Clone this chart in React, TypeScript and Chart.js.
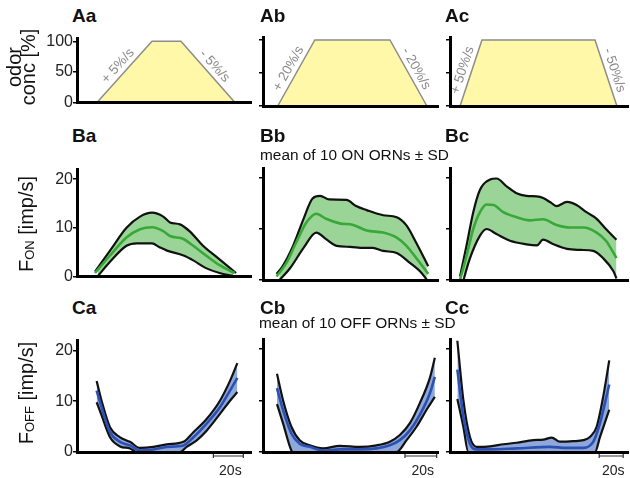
import React, { useEffect, useRef } from 'react';
import { Chart, registerables } from 'chart.js';
Chart.register(...registerables);

const FONT = '"Liberation Sans", Arial, Helvetica, sans-serif';

// ---------- data ----------
const odorLevels = [0, 100, 100, 0];
const rampA = [13.3, 50, 69.3, 105.3];
const rampB = [9.8, 34.5, 84.5, 109.1];
const rampC = [6.7, 21.3, 96.7, 111.3];
const rateUpLabels = ['+ 5%/s', '+ 20%/s', '+ 50%/s'];
const rateDownLabels = ['- 5%/s', '- 20%/s', '- 50%/s'];
const odorTicks = [0, 50, 100];
const rateTicks = [0, 10, 20];
const colTimeMax = [116, 116.5, 118.7];
const rowMax = [104.5, 21.96, 21.94];

type P = [number, number][];
const baUpper: P = [[12,1],[22,5.3],[33,10],[42,12.3],[50,13.1],[57.5,12.3],[62,11.1],[68.7,10.7],[75,9.3],[84,6.3],[93,4],[106,0.7]];
const baMean: P = [[12,0.7],[22,4.3],[33,8],[42,9.7],[50,10.1],[57.5,9.3],[62,8.3],[71,7.7],[77.5,6.3],[86,4.3],[95,2.3],[105,0.7]];
const baLower: P = [[14,0.1],[22,3],[33,6.3],[40,6.8],[50,6.8],[55,6],[60,5.3],[71,4.3],[77.5,3.3],[86,1.7],[95,0.7],[104,0.1]];

const bbUpper: P = [[9,1.2],[13,2.7],[20,6.7],[27,12],[33,16],[38,16.5],[44,15.8],[55.5,15.7],[62,14.5],[69,13.7],[80,12.7],[89,12.3],[95.5,10.7],[102,7.3],[110,2.7]];
const bbMean: P = [[9,0.7],[15.5,3.3],[22,7.3],[29,11.3],[35.5,13],[42,12],[51,11.1],[60,10.8],[69,9.7],[80,9.3],[89,8.3],[95.5,6.7],[102,4.3],[110,1.2]];
const bbLower: P = [[11,0],[18,2.3],[27,6.3],[35.5,9.3],[42,8],[49,6.7],[58,6.5],[67,6.3],[73,6.3],[80,5.7],[89,5.3],[98,3.3],[104.5,1.7],[109,0.1]];

const bcUpper: P = [[6.7,0.7],[11,6.7],[15.5,13.3],[20,17.7],[26.7,19.7],[31,19.9],[38,18.3],[44.4,17],[51,16.5],[60,16.3],[66.7,15.3],[71,14.5],[78,15.3],[84.4,14.7],[91,13.3],[97.8,12],[104,10],[111,7.9]];
const bcMean: P = [[6.7,0],[11,4.7],[15.5,10],[20,13.3],[24.4,14.8],[29,14.7],[35.5,13.3],[44.4,12.3],[53,11.7],[62,11.9],[71,10.8],[80,10.3],[89,10.3],[97.8,9.3],[104,7.7],[111,4.3]];
const bcLower: P = [[9,0],[13,4],[20,8.7],[24.4,10],[31,9],[40,7.7],[51,7],[58,6.8],[62,7.9],[69,7],[78,6.1],[87,5.9],[95.5,5.7],[102,4.3],[109,1.7],[111,0.3]];

const caUpper: P = [[13.1,14],[16.4,10.1],[22,4.9],[28.7,2.9],[35.3,2],[42,0.8],[50.9,1],[59.8,1.5],[70.9,2],[77.6,3.9],[86.4,6.5],[95.3,10.1],[102,14],[106.9,17.5]];
const caMean: P = [[13.1,12.1],[16.4,8.8],[22,3.9],[28.7,2],[35.3,1.3],[42,0.3],[50.9,0.5],[59.8,1],[70.9,1.3],[77.6,2.9],[86.4,5.6],[95.3,8.8],[102,12.1],[106.9,14.6]];
const caLower: P = [[13.1,9.8],[16.4,7.2],[22,2.9],[28.7,1.1],[35.3,0.7],[39.8,0],[68.7,0],[73.1,1],[79.8,2.3],[86.4,4.2],[95.3,7.5],[102,10.1],[106.9,11.8]];

const cbUpper: P = [[9.3,15.2],[13.3,10.1],[18.9,4.9],[24.4,2.3],[31.1,1.3],[40,0.7],[51.1,1.2],[64.4,1],[75.6,1.3],[84.4,2],[91.1,3.3],[97.8,5.6],[104.4,9.5],[111.1,14.4],[114.4,18.3]];
const cbMean: P = [[9.3,12.4],[13.3,8.2],[18.9,3.6],[24.4,1.6],[31.1,1],[40,0.3],[51.1,0.5],[64.4,0.5],[75.6,0.7],[84.4,1.3],[91.1,2.3],[97.8,4.2],[104.4,7.2],[111.1,11.4],[114.4,14.6]];
const cbLower: P = [[9.3,9.3],[13.3,5.6],[18.9,0.3],[20,0],[88.9,0],[95.6,2.3],[102.2,4.9],[108.9,8.2],[114.4,10.7]];

const ccUpper: P = [[4.9,21.6],[8.9,10.1],[13.3,2.9],[17.8,1],[26.7,1.1],[35.6,1.5],[44.4,1.8],[55.6,2.3],[62.2,2.4],[67.8,2.8],[73.3,2],[82.2,2.1],[88.9,2.3],[93.3,2.9],[97.8,4.9],[102.2,10.8],[106.2,17.8]];
const ccMean: P = [[4.9,16],[8.9,6.9],[13.3,1.6],[17.8,0.5],[26.7,0.5],[44.4,0.7],[66.7,1],[77.8,0.8],[88.9,0.8],[95.6,2],[100,5.6],[106.2,13.1]];
const ccLower: P = [[4.9,10.3],[8.9,4.9],[12.2,0],[96.7,0],[100,2.9],[106.2,8.2]];

const scaleBarA = [90.9, 110.9];
const scaleBarB = [94.5, 115.6];
const scaleBarC = [99.5, 115.5];
const scaleBarLabel = '20s';

// ---------- layout (pixels) ----------
const colAxisX = [77, 263, 450];
const colRightX = [251, 438, 628];
const rowTopY = [37, 168, 339];
const rowZeroY = [106, 280, 452];
const Y_AXIS_W = 45;
const PAD_TOP = 8;
const PAD_RIGHT = 6;

const ONBAND = '#9bd497';
const ONMEAN = '#38a838';
const OFFBAND = '#8fa8dc';
const OFFMEAN = '#2b50b2';

const rampsAll = [rampA, rampB, rampC];
const onSets = [[baUpper, baMean, baLower], [bbUpper, bbMean, bbLower], [bcUpper, bcMean, bcLower]];
const offSets = [[caUpper, caMean, caLower], [cbUpper, cbMean, cbLower], [ccUpper, ccMean, ccLower]];
const scaleBars = [scaleBarA, scaleBarB, scaleBarC];

const toXY = (p: P) => p.map(([x, y]) => ({ x, y }));

function makeConfig(row: number, col: number, bottomPad: number): any {
  const datasets: any[] = [];
  const plugins: any[] = [];
  if (row === 0) {
    const r = rampsAll[col];
    datasets.push({
      data: r.map((t, i) => ({ x: t, y: odorLevels[i] })),
      borderColor: '#8c8c8c', borderWidth: 1.5, backgroundColor: '#fff8a8',
      fill: 'origin', pointRadius: 0, tension: 0, clip: false,
    });
    plugins.push({
      id: 'rampLabels',
      afterDatasetsDraw(chart: any) {
        const { ctx, scales } = chart;
        const px = (t: number, v: number) => ({ x: scales.x.getPixelForValue(t), y: scales.y.getPixelForValue(v) });
        const draw = (a: any, b: any, text: string) => {
          const ang = Math.atan2(b.y - a.y, b.x - a.x);
          const mx = (a.x + b.x) / 2, my = (a.y + b.y) / 2;
          ctx.save();
          ctx.translate(mx, my);
          ctx.rotate(ang);
          ctx.font = `13.5px ${FONT}`;
          ctx.fillStyle = '#8a8a8a';
          ctx.textAlign = 'center';
          ctx.textBaseline = 'bottom';
          ctx.fillText(text, 0, -2);
          ctx.restore();
        };
        draw(px(r[0], odorLevels[0]), px(r[1], odorLevels[1]), rateUpLabels[col]);
        draw(px(r[2], odorLevels[2]), px(r[3], odorLevels[3]), rateDownLabels[col]);
      },
    });
  } else {
    const [up, mean, low] = row === 1 ? onSets[col] : offSets[col];
    const band = row === 1 ? ONBAND : OFFBAND;
    const mc = row === 1 ? ONMEAN : OFFMEAN;
    datasets.push({ data: toXY(mean), borderColor: mc, borderWidth: 2.6, pointRadius: 0, cubicInterpolationMode: 'monotone', fill: false, clip: false });
    datasets.push({ data: toXY(up), borderColor: '#111', borderWidth: 2.2, pointRadius: 0, cubicInterpolationMode: 'monotone', fill: '+1', backgroundColor: band, clip: false });
    datasets.push({ data: toXY(low), borderColor: '#111', borderWidth: 2.2, pointRadius: 0, cubicInterpolationMode: 'monotone', fill: false, clip: false });
    if (row === 2) {
      const bar = scaleBars[col];
      plugins.push({
        id: 'scaleBar',
        afterDraw(chart: any) {
          const { ctx, scales, chartArea } = chart;
          const x1 = scales.x.getPixelForValue(bar[0]);
          const x2 = scales.x.getPixelForValue(bar[1]);
          const y = chartArea.bottom + 4;
          ctx.save();
          ctx.strokeStyle = '#333';
          ctx.lineWidth = 1.2;
          ctx.beginPath();
          ctx.moveTo(x1, y); ctx.lineTo(x2, y);
          ctx.moveTo(x1, y - 2); ctx.lineTo(x1, y + 2);
          ctx.moveTo(x2, y - 2); ctx.lineTo(x2, y + 2);
          ctx.stroke();
          ctx.font = `14px ${FONT}`;
          ctx.fillStyle = '#222';
          ctx.textAlign = 'center';
          ctx.textBaseline = 'alphabetic';
          ctx.fillText(scaleBarLabel, (x1 + x2) / 2 + 2, y + 19);
          ctx.restore();
        },
      });
    }
  }
  const ticks = row === 0 ? odorTicks : rateTicks;
  return {
    type: 'line',
    data: { datasets },
    plugins,
    options: {
      animation: false,
      responsive: false,
      devicePixelRatio: 1,
      events: [],
      layout: { padding: { left: 0, top: PAD_TOP, right: PAD_RIGHT, bottom: bottomPad }, autoPadding: false },
      plugins: { legend: { display: false }, tooltip: { enabled: false }, filler: { drawTime: 'beforeDatasetsDraw' } },
      scales: {
        x: {
          type: 'linear', min: 0, max: colTimeMax[col],
          grid: { display: false, drawTicks: false },
          border: { display: true, color: '#000', width: 3, z: 1 },
          ticks: { display: false },
          afterFit: (s: any) => { s.height = 0; },
        },
        y: {
          type: 'linear', min: 0, max: rowMax[row],
          afterBuildTicks: (s: any) => { s.ticks = ticks.map((v) => ({ value: v })); },
          grid: { drawOnChartArea: false, drawTicks: true, tickLength: 4, color: '#000', lineWidth: 1.5 },
          border: { display: true, color: '#000', width: 3, z: 1 },
          ticks: { display: col === 0, font: { size: 16, family: FONT }, color: '#222', padding: 0 },
          afterFit: (s: any) => { s.width = Y_AXIS_W; },
        },
      },
    },
  };
}

function Panel({ row, col }: { row: number; col: number }) {
  const ref = useRef<HTMLCanvasElement>(null);
  const bottomPad = row === 2 ? 28 : 6;
  const left = colAxisX[col] - Y_AXIS_W;
  const top = rowTopY[row] - PAD_TOP;
  const width = colRightX[col] - colAxisX[col] + Y_AXIS_W + PAD_RIGHT;
  const height = rowZeroY[row] - rowTopY[row] + PAD_TOP + bottomPad;
  useEffect(() => {
    const chart = new Chart(ref.current as HTMLCanvasElement, makeConfig(row, col, bottomPad));
    return () => chart.destroy();
  }, [row, col]);
  return (
    <canvas
      ref={ref}
      width={width}
      height={height}
      style={{ position: 'absolute', left, top, width, height }}
    />
  );
}

function Txt({ x, base, size, bold, children }: any) {
  return (
    <div style={{ position: 'absolute', left: x, top: base - 0.8465 * size, fontSize: size, lineHeight: 1, fontFamily: FONT, fontWeight: bold ? 700 : 400, whiteSpace: 'nowrap', color: '#111' }}>
      {children}
    </div>
  );
}

function VTxt({ cx, cy, size, lh, children }: any) {
  return (
    <div style={{ position: 'absolute', left: cx, top: cy, transform: 'translate(-50%, -50%) rotate(-90deg)', fontSize: size, lineHeight: lh, fontFamily: FONT, whiteSpace: 'nowrap', textAlign: 'center', color: '#111' }}>
      {children}
    </div>
  );
}

const panelLetters = [['Aa', 'Ab', 'Ac'], ['Ba', 'Bb', 'Bc'], ['Ca', 'Cb', 'Cc']];
const letterX = [72, 260, 445];
const letterBase = [22, 142.5, 314];

export default function App() {
  return (
    <div style={{ position: 'absolute', left: 0, top: 0, width: 630, height: 478, background: '#fff', overflow: 'hidden' }}>
      {[0, 1, 2].map((r) => [0, 1, 2].map((c) => <Panel key={`${r}-${c}`} row={r} col={c} />))}
      {panelLetters.map((rowL, r) => rowL.map((l, c) => (
        <Txt key={l} x={letterX[c]} base={letterBase[r]} size={19} bold>{l}</Txt>
      )))}
      <Txt x={260} base={160} size={15.4}>mean of 10 ON ORNs ± SD</Txt>
      <Txt x={259} base={328} size={15.4}>mean of 10 OFF ORNs ± SD</Txt>
      <VTxt cx={21} cy={67} size={20} lh={0.72}>odor<br />conc [%]</VTxt>
      <VTxt cx={26} cy={224} size={20} lh={1}>F<span style={{ fontSize: '0.65em', verticalAlign: '-0.15em' }}>ON</span> [imp/s]</VTxt>
      <VTxt cx={26} cy={393} size={20} lh={1}>F<span style={{ fontSize: '0.65em', verticalAlign: '-0.15em' }}>OFF</span> [imp/s]</VTxt>
    </div>
  );
}
